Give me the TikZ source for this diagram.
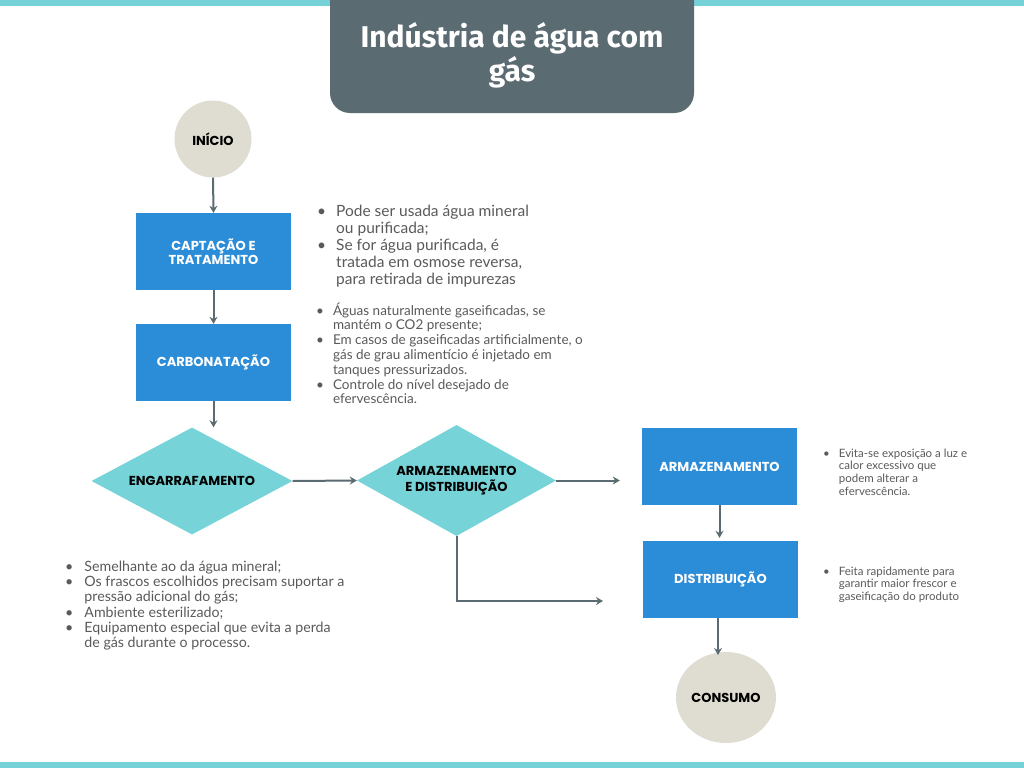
\documentclass[tikz,border=0pt]{standalone}
\usepackage{fontspec}
\setmainfont{Lato}
\newfontfamily\boxfont{Poppins}
\newfontfamily\titlefont{Fira Sans}
\usetikzlibrary{shapes.geometric,arrows.meta}
\definecolor{bar}{HTML}{76D2D7}
\definecolor{titlegrey}{HTML}{5B6B72}
\definecolor{procblue}{HTML}{2B8CD8}
\definecolor{dteal}{HTML}{76D3D7}
\definecolor{beige}{HTML}{DFDDD1}
\definecolor{bodygrey}{HTML}{5A5A5A}
\tikzset{
  proc/.style={rectangle, fill=procblue, minimum width=155pt, minimum height=77pt, inner sep=0pt,
    text=white, align=center, font=\boxfont\bfseries\fontsize{13}{13.5}\selectfont},
  dec/.style={diamond, fill=dteal, aspect=1.9, minimum width=201pt, minimum height=107pt, inner sep=0pt,
    text=black, align=center, font=\boxfont\bfseries\fontsize{13}{15.5}\selectfont},
  term/.style={ellipse, fill=beige, inner sep=0pt, text=black, font=\boxfont\bfseries\fontsize{13}{14}\selectfont},
  arr/.style={draw=titlegrey, line width=2pt, -{Stealth[length=7pt,width=8pt]}},
  note/.style={inner sep=0pt, text=bodygrey, anchor=base west},
}
\begin{document}
\begin{tikzpicture}[x=1pt,y=-1pt]
\fill[white] (0,0) rectangle (1024,768);
\path[use as bounding box] (0,0) rectangle (1024,768);
\fill[bar] (0,0) rectangle (1024,6);
\fill[bar] (0,762) rectangle (1024,768);
\begin{scope}
\clip (0,0) rectangle (1024,768);
\fill[titlegrey, rounded corners=20pt] (330,-30) rectangle (694,113);
\end{scope}
\node[text=white, align=center, font=\titlefont\bfseries\fontsize{30}{34}\selectfont] (title) at (512,55) {Indústria de água com\\gás};

\node[term, minimum width=77pt, minimum height=77pt] (inicio) at (213,139) {INÍCIO};
\node[proc] (capt) at (213.5,251.5) {CAPTAÇÃO E\\TRATAMENTO};
\node[proc] (carb) at (213.5,362.5) {CARBONATAÇÃO};
\node[dec] (eng) at (192,481) {ENGARRAFAMENTO};
\node[dec, minimum width=199pt, minimum height=111pt] (armdist) at (456.5,480.5) {ARMAZENAMENTO\\E DISTRIBUIÇÃO};
\node[proc] (arm) at (719.5,466.5) {ARMAZENAMENTO};
\node[proc] (dist) at (720.5,579.5) {DISTRIBUIÇÃO};
\node[term, minimum width=100pt, minimum height=91pt] (cons) at (726,697.5) {CONSUMO};
\coordinate (elbowend) at (603,601);

\draw[arr] (inicio.south) -- (capt.north);
\draw[arr] (capt.south) -- (carb.north);
\draw[arr] (carb.south) -- (eng.north -| carb.south);
\draw[arr] (eng.east) -- (armdist.west);
\draw[arr, shorten >=22pt] (armdist.east) -- (arm.west |- armdist.east);
\draw[arr] (armdist.south) |- (elbowend);
\draw[arr, shorten >=3pt] (arm.south) -- (arm.south |- dist.north);
\draw[arr] (dist.south -| 718,0) -- (718,655);

\node[note, font=\fontsize{15.5}{17}\selectfont] (n1) at (317,216) {%
\begin{tabular}[t]{@{}l@{\hspace{10pt}}l@{}}
\textbullet & Pode ser usada água mineral\\
 & ou purificada;\\
\textbullet & Se for água purificada, é\\
 & tratada em osmose reversa,\\
 & para retirada de impurezas
\end{tabular}};
\node[note, font=\fontsize{13.5}{14.8}\selectfont] (n2) at (316,315) {%
\begin{tabular}[t]{@{}l@{\hspace{9pt}}l@{}}
\textbullet & Águas naturalmente gaseificadas, se\\
 & mantém o CO2 presente;\\
\textbullet & Em casos de gaseificadas artificialmente, o\\
 & gás de grau alimentício é injetado em\\
 & tanques pressurizados.\\
\textbullet & Controle do nível desejado de\\
 & efervescência.
\end{tabular}};
\node[note, font=\fontsize{14.2}{15.2}\selectfont] (n3) at (65,571.5) {%
\begin{tabular}[t]{@{}l@{\hspace{11pt}}l@{}}
\textbullet & Semelhante ao da água mineral;\\
\textbullet & Os frascos escolhidos precisam suportar a\\
 & pressão adicional do gás;\\
\textbullet & Ambiente esterilizado;\\
\textbullet & Equipamento especial que evita a perda\\
 & de gás durante o processo.
\end{tabular}};
\node[note, font=\fontsize{11.5}{12.7}\selectfont] (n4) at (823,457) {%
\begin{tabular}[t]{@{}l@{\hspace{9pt}}l@{}}
\textbullet & Evita-se exposição a luz e\\
 & calor excessivo que\\
 & podem alterar a\\
 & efervescência.
\end{tabular}};
\node[note, font=\fontsize{11.5}{12.7}\selectfont] (n5) at (823,575) {%
\begin{tabular}[t]{@{}l@{\hspace{9pt}}l@{}}
\textbullet & Feita rapidamente para\\
 & garantir maior frescor e\\
 & gaseificação do produto
\end{tabular}};
\end{tikzpicture}
\end{document}
